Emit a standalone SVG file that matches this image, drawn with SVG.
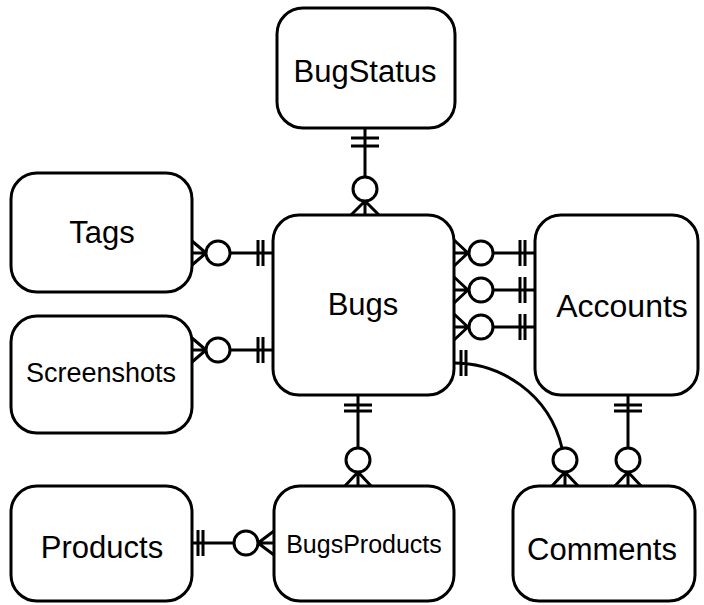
<svg xmlns="http://www.w3.org/2000/svg" width="704" height="605" viewBox="0 0 704 605">
<style>
.box{fill:#fff;stroke:#000;stroke-width:3}
.lbl{font-family:"Liberation Sans",Arial,sans-serif;font-size:31px;fill:#000;text-anchor:middle}
.ln{fill:none;stroke:#000;stroke-width:3}
.ci{fill:#fff;stroke:#000;stroke-width:3}
</style>
<rect width="704" height="605" fill="#fff"/>
<g id="connectors">
  <!-- BugStatus - Bugs -->
  <path class="ln" d="M365,128V201M351,138H379M351,146H379M365,201L351,215M365,201L379,215M365,201V215"/>
  <circle class="ci" cx="365" cy="189" r="12"/>
  <!-- Tags - Bugs -->
  <path class="ln" d="M192,253H273M258,240V266M263,240V266M206,253L192,241M206,253L192,265"/>
  <circle class="ci" cx="218" cy="253" r="12"/>
  <!-- Screenshots - Bugs -->
  <path class="ln" d="M192,350H273M258,337V363M263,337V363M206,350L192,338M206,350L192,362"/>
  <circle class="ci" cx="218" cy="350" r="12"/>
  <!-- Bugs - Accounts x3 -->
  <path class="ln" d="M454,253H535M520,240V266M525,240V266M468,253L454,240M468,253L454,266"/>
  <circle class="ci" cx="481" cy="253" r="12"/>
  <path class="ln" d="M454,290H535M520,277V303M525,277V303M468,290L454,277M468,290L454,303"/>
  <circle class="ci" cx="481" cy="290" r="12"/>
  <path class="ln" d="M454,327H535M520,314V340M525,314V340M468,327L454,314M468,327L454,340"/>
  <circle class="ci" cx="481" cy="327" r="12"/>
  <!-- Bugs - Comments -->
  <path class="ln" d="M454,363C500,363 549,393 562,448M461,350V376M466,350V376M565,472L551,487M565,472L579,487M565,472V487"/>
  <circle class="ci" cx="565" cy="460" r="12"/>
  <!-- Accounts - Comments -->
  <path class="ln" d="M628,395V487M614,405H642M614,411H642M628,472L614,487M628,472L642,487"/>
  <circle class="ci" cx="628" cy="460" r="12"/>
  <!-- Bugs - BugsProducts -->
  <path class="ln" d="M358,395V487M344,405H372M344,411H372M358,472L344,487M358,472L372,487"/>
  <circle class="ci" cx="358" cy="460" r="12"/>
  <!-- Products - BugsProducts -->
  <path class="ln" d="M192,543H274M198,530V556M203,530V556M258,543L274,531M258,543L274,555"/>
  <circle class="ci" cx="246" cy="543" r="12"/>
</g>
<g id="BugStatus"><rect class="box" x="277" y="8" width="178" height="120" rx="26"/><text class="lbl" x="365" y="82">BugStatus</text></g>
<g id="Tags"><rect class="box" x="11" y="173" width="181" height="119" rx="26"/><text class="lbl" x="102" y="243">Tags</text></g>
<g id="Screenshots"><rect class="box" x="11" y="316" width="181" height="117" rx="26"/><text class="lbl" x="101" y="382" style="font-size:27px">Screenshots</text></g>
<g id="Bugs"><rect class="box" x="273" y="215" width="181" height="180" rx="26"/><text class="lbl" x="363" y="315">Bugs</text></g>
<g id="Accounts"><rect class="box" x="535" y="215" width="163" height="180" rx="26"/><text class="lbl" x="622" y="317" style="font-size:32px">Accounts</text></g>
<g id="Products"><rect class="box" x="11" y="486" width="181" height="115" rx="26"/><text class="lbl" x="102" y="558">Products</text></g>
<g id="BugsProducts"><rect class="box" x="274" y="486" width="180" height="115" rx="26"/><text class="lbl" x="364" y="553" style="font-size:25px">BugsProducts</text></g>
<g id="Comments"><rect class="box" x="513" y="486" width="182" height="115" rx="26"/><text class="lbl" x="602" y="560">Comments</text></g>
</svg>
